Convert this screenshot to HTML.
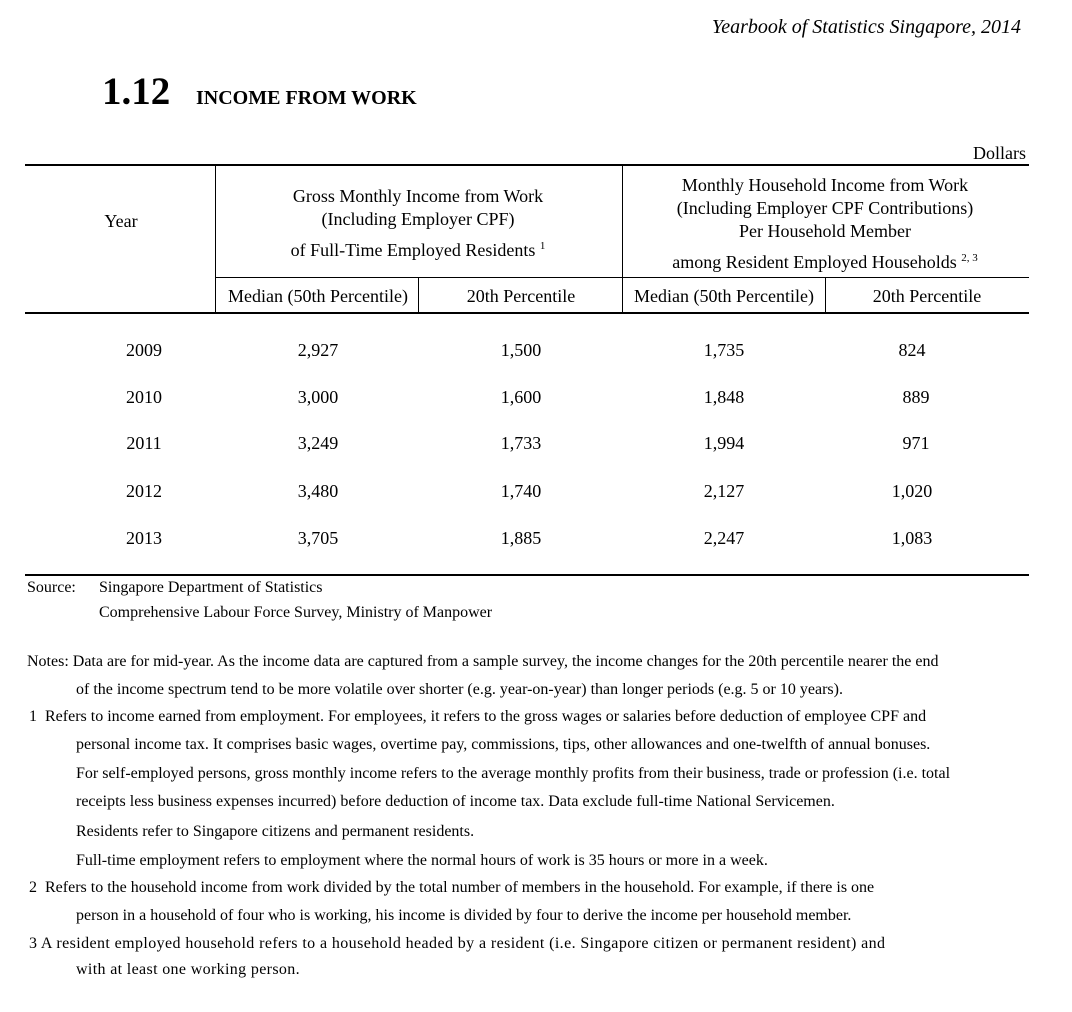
<!DOCTYPE html>
<html><head><meta charset="utf-8"><style>
body{margin:0;background:#fff;}
#p{position:relative;width:1072px;height:1012px;font-family:"Liberation Serif",serif;color:#000;overflow:hidden}
.t{position:absolute;white-space:nowrap;font-size:18px;line-height:18px}
.c{transform:translateX(-50%);text-align:center}
.h{position:absolute;background:#000;height:1px}
.v{position:absolute;background:#000;width:1px}
.n{position:absolute;white-space:nowrap;font-size:16px;line-height:18px}
</style></head><body><div id="p">
<div class="t" style="right:51px;top:17px;font-style:italic;font-size:20px;line-height:20px">Yearbook of Statistics Singapore, 2014</div>
<div class="t" style="left:102px;top:72px;font-weight:bold;font-size:39px;line-height:40px">1.12</div>
<div class="t" style="left:196px;top:87px;font-weight:bold;font-size:20px;line-height:22px">INCOME FROM WORK</div>
<div class="t" style="right:46px;top:144px">Dollars</div>
<div class="h" style="left:25px;width:1004px;top:164px;height:2px"></div>
<div class="v" style="left:215px;top:165px;height:148px"></div>
<div class="v" style="left:622px;top:165px;height:148px"></div>
<div class="h" style="left:215px;width:814px;top:277px"></div>
<div class="v" style="left:418px;top:277px;height:36px"></div>
<div class="v" style="left:825px;top:277px;height:36px"></div>
<div class="h" style="left:25px;width:1004px;top:312px;height:2px"></div>
<div class="h" style="left:25px;width:1004px;top:574px;height:2px"></div>
<div class="t c" style="left:121px;top:212px">Year</div>
<div class="t c" style="left:418px;top:187px">Gross Monthly Income from Work</div>
<div class="t c" style="left:418px;top:210px">(Including Employer CPF)</div>
<div class="t c" style="left:418px;top:237px">of Full-Time Employed Residents <sup style="font-size:11px">1</sup></div>
<div class="t c" style="left:825px;top:176px">Monthly Household Income from Work</div>
<div class="t c" style="left:825px;top:199px">(Including Employer CPF Contributions)</div>
<div class="t c" style="left:825px;top:222px">Per Household Member</div>
<div class="t c" style="left:825px;top:249px">among Resident Employed Households <sup style="font-size:11px">2, 3</sup></div>
<div class="t c" style="left:318px;top:287px">Median (50th Percentile)</div>
<div class="t c" style="left:521px;top:287px">20th Percentile</div>
<div class="t c" style="left:724px;top:287px">Median (50th Percentile)</div>
<div class="t c" style="left:927px;top:287px">20th Percentile</div>

<div class="t c" style="left:144px;top:341px">2009</div><div class="t c" style="left:318px;top:341px">2,927</div><div class="t c" style="left:521px;top:341px">1,500</div><div class="t c" style="left:724px;top:341px">1,735</div><div class="t c" style="left:912px;top:341px">824</div>
<div class="t c" style="left:144px;top:388px">2010</div><div class="t c" style="left:318px;top:388px">3,000</div><div class="t c" style="left:521px;top:388px">1,600</div><div class="t c" style="left:724px;top:388px">1,848</div><div class="t c" style="left:916px;top:388px">889</div>
<div class="t c" style="left:144px;top:434px">2011</div><div class="t c" style="left:318px;top:434px">3,249</div><div class="t c" style="left:521px;top:434px">1,733</div><div class="t c" style="left:724px;top:434px">1,994</div><div class="t c" style="left:916px;top:434px">971</div>
<div class="t c" style="left:144px;top:482px">2012</div><div class="t c" style="left:318px;top:482px">3,480</div><div class="t c" style="left:521px;top:482px">1,740</div><div class="t c" style="left:724px;top:482px">2,127</div><div class="t c" style="left:912px;top:482px">1,020</div>
<div class="t c" style="left:144px;top:529px">2013</div><div class="t c" style="left:318px;top:529px">3,705</div><div class="t c" style="left:521px;top:529px">1,885</div><div class="t c" style="left:724px;top:529px">2,247</div><div class="t c" style="left:912px;top:529px">1,083</div>

<div class="n" style="left:27px;top:579px">Source:</div>
<div class="n" style="left:99px;top:579px">Singapore Department of Statistics</div>
<div class="n" style="left:99px;top:604px">Comprehensive Labour Force Survey, Ministry of Manpower</div>
<div class="n" style="left:27px;top:653px">Notes: Data are for mid-year. As the income data are captured from a sample survey, the income changes for the 20th percentile nearer the end</div>
<div class="n" style="left:76px;top:681px">of the income spectrum tend to be more volatile over shorter (e.g. year-on-year) than longer periods (e.g. 5 or 10 years).</div>
<div class="n" style="left:29px;top:708px">1 &nbsp;Refers to income earned from employment. For employees, it refers to the gross wages or salaries before deduction of employee CPF and</div>
<div class="n" style="left:76px;top:736px">personal income tax. It comprises basic wages, overtime pay, commissions, tips, other allowances and one-twelfth of annual bonuses.</div>
<div class="n" style="left:76px;top:765px">For self-employed persons, gross monthly income refers to the average monthly profits from their business, trade or profession (i.e. total</div>
<div class="n" style="left:76px;top:793px">receipts less business expenses incurred) before deduction of income tax. Data exclude full-time National Servicemen.</div>
<div class="n" style="left:76px;top:823px">Residents refer to Singapore citizens and permanent residents.</div>
<div class="n" style="left:76px;top:852px">Full-time employment refers to employment where the normal hours of work is 35 hours or more in a week.</div>
<div class="n" style="left:29px;top:879px">2 &nbsp;Refers to the household income from work divided by the total number of members in the household. For example, if there is one</div>
<div class="n" style="left:76px;top:907px">person in a household of four who is working, his income is divided by four to derive the income per household member.</div>
<div class="n" style="left:29px;top:935px;letter-spacing:0.4px">3 A resident employed household refers to a household headed by a resident (i.e. Singapore citizen or permanent resident) and</div>
<div class="n" style="left:76px;top:961px;letter-spacing:0.35px">with at least one working person.</div>
</div></body></html>
